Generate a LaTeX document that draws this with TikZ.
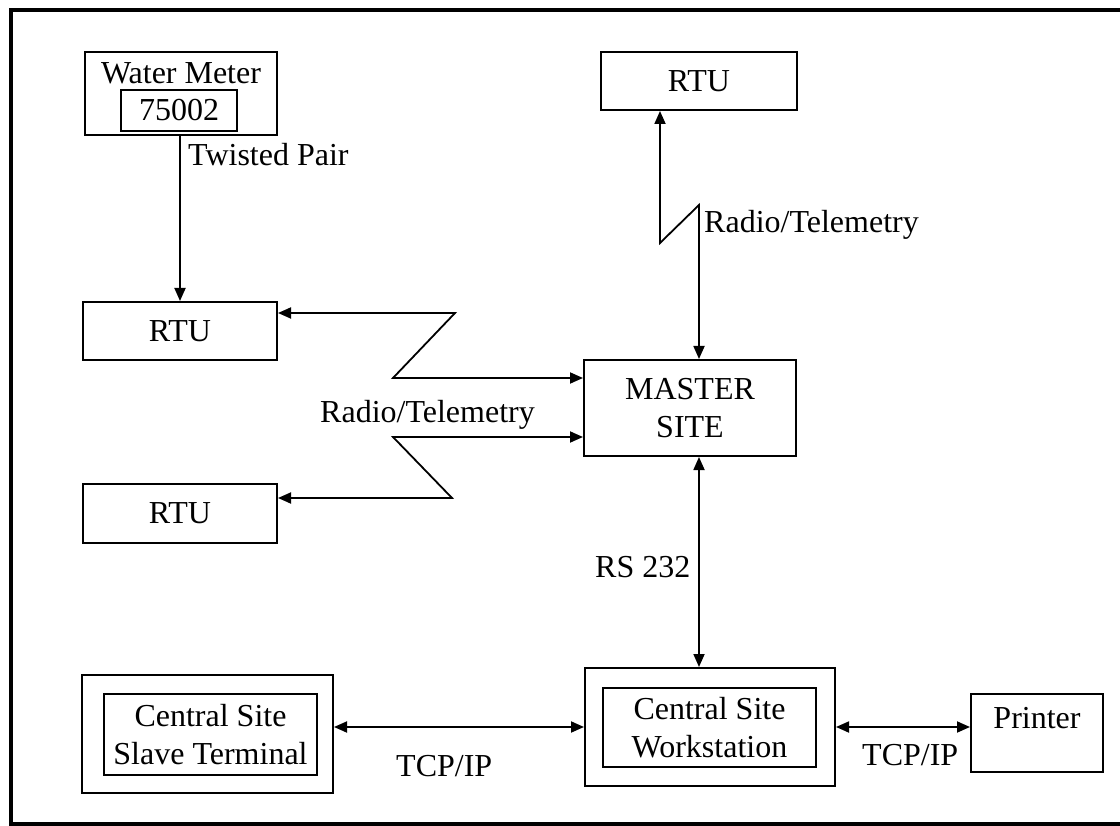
\documentclass[tikz,border=0pt]{standalone}
\usepackage{fontspec}
\setmainfont{Liberation Serif}
\usetikzlibrary{arrows.meta}
\begin{document}
\begin{tikzpicture}[x=1pt,y=-1pt,
  every node/.style={font=\fontsize{32}{38}\selectfont, inner sep=0pt},
  box/.style={draw, line width=2pt, align=center},
  lbl/.style={anchor=base west},
  conn/.style={line width=1.8pt, line join=miter},
  tip/.style={-{Triangle[length=13pt,width=11pt]}},
  tips/.style={{Triangle[length=13pt,width=11pt]}-{Triangle[length=13pt,width=11pt]}}]
\useasboundingbox (0,0) rectangle (1120,826);
\begin{scope}
  \clip (0,0) rectangle (1120,826);
  % outer frame
  \draw[line width=4pt] (10.5,10) rectangle (1135,823.5);
\end{scope}

% water meter with its id plate
\node[box, minimum width=192pt, minimum height=83pt] (wm) at (181,93.5) {};
\node (wmtext) at (181,73) {Water Meter};
\node[box, minimum width=116pt, minimum height=41pt] (wmid) at (179,110.5) {75002};

% remote terminal units
\node[box, minimum width=194pt, minimum height=58pt] (rtu1) at (180,331) {RTU};
\node[box, minimum width=194pt, minimum height=59pt] (rtu2) at (180,513) {RTU};
\node[box, minimum width=196pt, minimum height=58pt] (rtu3) at (699,81) {RTU};

% master site
\node[box, minimum width=212pt, minimum height=96pt] (master) at (690,408) {MASTER\\SITE};

% central site workstation
\node[box, minimum width=250pt, minimum height=118pt] (ws) at (710,727) {};
\node[box, minimum width=213pt, minimum height=79pt] (wsin) at (709.5,727.5) {Central Site\\Workstation};

% central site slave terminal
\node[box, minimum width=251pt, minimum height=118pt] (slave) at (207.5,734) {};
\node[box, minimum width=213pt, minimum height=81pt] (slavein) at (210.5,734.5) {Central Site\\Slave Terminal};

% printer
\node[box, minimum width=132pt, minimum height=78pt] (printer) at (1037,733) {};
\node (prtext) at (1037,718) {Printer};

% bend points of the radio links
\coordinate (a1) at (455,313);
\coordinate (a2) at (393,378);
\coordinate (b1) at (393,437);
\coordinate (b2) at (452,498);
\coordinate (t1) at (660,243);
\coordinate (t2) at (699,205);
\coordinate (mx) at (699,0);

% connectors
\draw[conn, tip] (wm.south -| rtu1.north) -- (rtu1.north);
\draw[conn, tips] (rtu1.east |- a1) -- (a1) -- (a2) -- (master.west |- a2);
\draw[conn, tips] (master.west |- b1) -- (b1) -- (b2) -- (rtu2.east |- b2);
\draw[conn, tips] (rtu3.south -| t1) -- (t1) -- (t2) -- (master.north -| t2);
\draw[conn, tips] (master.south -| mx) -- (ws.north -| mx);
\draw[conn, tips] (slave.east |- ws.west) -- (ws.west);
\draw[conn, tips] (ws.east) -- (printer.west |- ws.east);

% link labels
\node[lbl] (ltp) at (188,166) {Twisted Pair};
\node[lbl] (lr1) at (704,233) {Radio/Telemetry};
\node[lbl] (lr2) at (320,423) {Radio/Telemetry};
\node[lbl] (lrs) at (595,577) {RS 232};
\node[lbl] (lt1) at (396,776) {TCP/IP};
\node[lbl] (lt2) at (862,765) {TCP/IP};
\end{tikzpicture}
\end{document}
